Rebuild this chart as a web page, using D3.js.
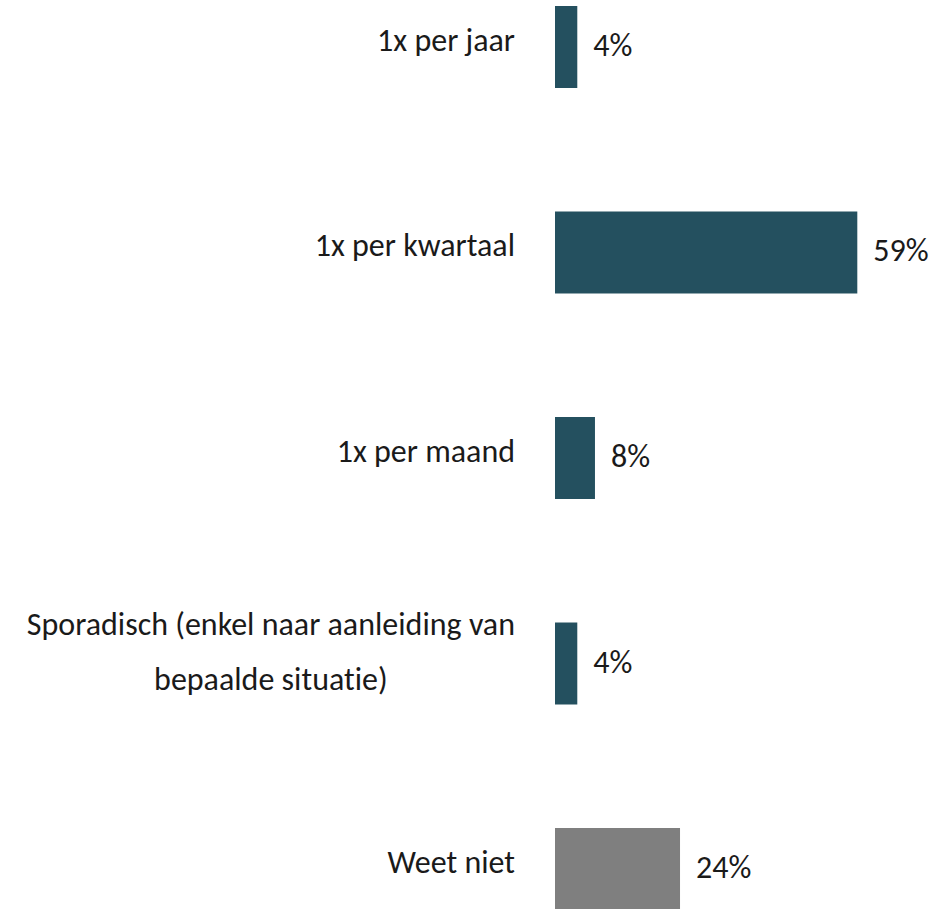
<!DOCTYPE html>
<html><head><meta charset="utf-8">
<script src="https://cdn.jsdelivr.net/npm/d3@7"></script>
<style>
html,body{margin:0;padding:0;background:#fff;}
svg{display:block;}
text{font-family:Carlito, Lato, "Open Sans", sans-serif;fill:#1a1a1a;font-variant-ligatures:none;font-feature-settings:"liga" 0, "clig" 0, "dlig" 0;}
</style></head>
<body>
<script>
const categories = [
  ["1x per jaar"],
  ["1x per kwartaal"],
  ["1x per maand"],
  ["Sporadisch (enkel naar aanleiding van", "bepaalde situatie)"],
  ["Weet niet"]
];
const values = [4.35, 59, 7.8, 4.35, 24.4];
const valueLabels = ["4%", "59%", "8%", "4%", "24%"];
const barColors = ["#24505f", "#24505f", "#24505f", "#24505f", "#7f7f7f"];

const W = 951, H = 909;
const FS = 32;
const svg = d3.select("body").append("svg").attr("width", W).attr("height", H);

const keys = categories.map(c => c.join(" "));
const y = d3.scaleBand().domain(keys).range([6, 910]).paddingInner(0.601).paddingOuter(0);
const x = d3.scaleLinear().domain([0, 59]).range([555, 857.3]);

const data = keys.map((k, i) => ({k, lines: categories[i], v: values[i], lab: valueLabels[i], c: barColors[i]}));

svg.selectAll("rect.bar").data(data).join("rect")
  .attr("class", "bar")
  .attr("x", x(0))
  .attr("y", d => y(d.k))
  .attr("width", d => x(d.v) - x(0))
  .attr("height", y.bandwidth())
  .attr("fill", d => d.c);

svg.selectAll("text.val").data(data).join("text")
  .attr("class", "val")
  .attr("x", d => x(d.v) + 16)
  .attr("y", d => y(d.k) + y.bandwidth() / 2 + 9)
  .attr("font-size", FS)
  .text(d => d.lab);

const labelRight = 515;
data.forEach(d => {
  const cy = y(d.k) + y.bandwidth() / 2;
  if (d.lines.length === 1) {
    svg.append("text")
      .attr("x", labelRight).attr("y", cy + 4)
      .attr("text-anchor", "end").attr("font-size", FS)
      .text(d.lines[0]);
  } else {
    const g = svg.append("g");
    const t1 = g.append("text").attr("font-size", FS).attr("y", cy - 29).attr("text-anchor", "middle").text(d.lines[0]);
    const t2 = g.append("text").attr("font-size", FS).attr("y", cy + 26).attr("text-anchor", "middle").text(d.lines[1]);
    const w = Math.max(t1.node().getComputedTextLength(), t2.node().getComputedTextLength());
    const cx = labelRight - w / 2;
    t1.attr("x", cx); t2.attr("x", cx);
  }
});
</script>
</body></html>
